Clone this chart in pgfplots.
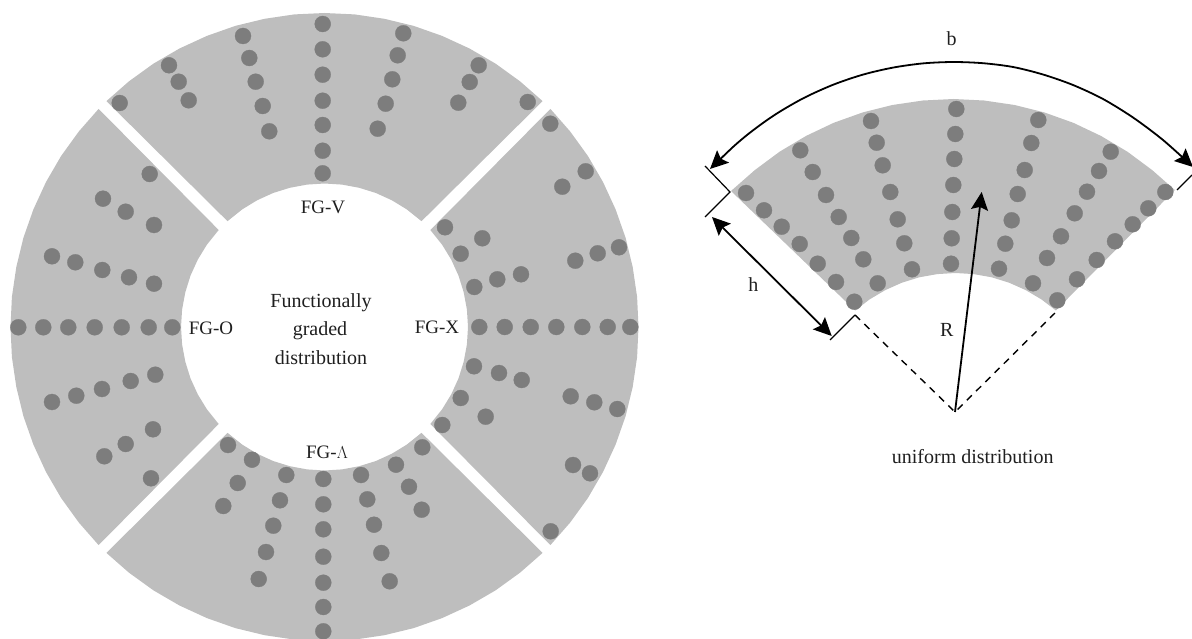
\documentclass[border=0pt]{standalone}
\usepackage{fontspec}
\setmainfont{Liberation Serif}
\usepackage{pgfplots}
\pgfplotsset{compat=1.18}
\usetikzlibrary{arrows.meta}
\definecolor{sector}{gray}{0.745}
\definecolor{dot}{gray}{0.49}
\definecolor{ink}{gray}{0.12}
\tikzset{lab/.style={font=\fontsize{19}{22}\selectfont, text=ink, inner sep=0pt},
         labs/.style={font=\fontsize{20}{23}\selectfont, text=ink, inner sep=0pt}}
\begin{document}
\begin{tikzpicture}
\useasboundingbox (0,0) rectangle (1192pt,639pt);
\begin{axis}[
    width=1192pt, height=639pt, scale only axis,
    xmin=0, xmax=1192, ymin=0, ymax=639,
    y dir=reverse,
    hide axis,
    dots/.style={only marks, color=dot, mark=*, mark size=8pt, mark options={draw=dot, fill=dot, line width=0.3pt}},
    wedge/.style={fill=sector, draw=none},
    dim/.style={black, line width=1.8pt, >={Stealth[length=18pt,width=17pt,inset=3pt]}},
]
% FG-V
\addplot[wedge] coordinates {
    (106.4,101.1)(129,81.3)(153.5,63.6)(179.5,48.5)(206.9,35.9)(235.3,25.9)(264.6,18.8)(294.4,14.4)(324.5,13)
    (354.6,14.4)(384.4,18.8)(413.7,25.9)(442.1,35.9)(469.5,48.5)(495.5,63.6)(520,81.3)(542.6,101.1)
    (421.5,221.2)(406.8,209.4)(391.9,200.3)(375.9,193)(359.2,187.8)(342,184.6)(324.5,183.5)
    (307,184.6)(289.8,187.8)(273.1,193)(257.1,200.3)(242.2,209.4)(227.5,221.2)};
% FG-Lambda
\addplot[wedge] coordinates {
    (106.4,552.9)(129,572.7)(153.5,590.4)(179.5,605.5)(206.9,618.1)(235.3,628.1)(264.6,635.2)(294.4,639.6)(324.5,641)
    (354.6,639.6)(384.4,635.2)(413.7,628.1)(442.1,618.1)(469.5,605.5)(495.5,590.4)(520,572.7)(542.6,552.9)
    (421.5,432.8)(406.8,444.6)(391.9,453.7)(375.9,461)(359.2,466.2)(342,469.4)(324.5,470.5)
    (307,469.4)(289.8,466.2)(273.1,461)(257.1,453.7)(242.2,444.6)(227.5,432.8)};
% FG-O
\addplot[wedge] coordinates {
    (98.6,108.9)(78.8,131.5)(61.1,156)(46,182)(33.4,209.4)(23.4,237.8)(16.3,267.1)(11.9,296.9)(10.5,327)
    (11.9,357.1)(16.3,386.9)(23.4,416.2)(33.4,444.6)(46,472)(61.1,498)(78.8,522.5)(98.6,545.1)
    (218.7,424)(206.9,409.3)(197.8,394.4)(190.5,378.4)(185.3,361.7)(182.1,344.5)(181,327)
    (182.1,309.5)(185.3,292.3)(190.5,275.6)(197.8,259.6)(206.9,244.7)(218.7,230)};
% FG-X
\addplot[wedge] coordinates {
    (550.4,108.9)(570.2,131.5)(587.9,156)(603,182)(615.6,209.4)(625.6,237.8)(632.7,267.1)(637.1,296.9)(638.5,327)
    (637.1,357.1)(632.7,386.9)(625.6,416.2)(615.6,444.6)(603,472)(587.9,498)(570.2,522.5)(550.4,545.1)
    (430.3,424)(442.1,409.3)(451.2,394.4)(458.5,378.4)(463.7,361.7)(466.9,344.5)(468,327)
    (466.9,309.5)(463.7,292.3)(458.5,275.6)(451.2,259.6)(442.1,244.7)(430.3,230)};
% uniform wedge
\addplot[wedge] coordinates {
    (731,191)(754.8,170.1)(779.6,151.7)(806.1,135.9)(833.7,122.8)(862.5,112.5)(892.4,105)(923,100.5)(953.5,99)
    (984,100.5)(1014.6,105)(1044.5,112.5)(1073.3,122.8)(1100.9,135.9)(1127.4,151.7)(1152.2,170.1)(1174.8,190)
    (1055.9,310.5)(1041.4,299.4)(1025.7,290.1)(1009.1,282.7)(991.7,277.3)(973.7,274.1)(955.5,273)
    (937.3,274.1)(919.3,277.3)(901.9,282.7)(885.3,290.1)(869.6,299.4)(855.1,310.5)};

% ring dots
\addplot[dots] coordinates {
    (322.7,24)(322.7,49.3)(322.7,74.7)(322.7,100.7)(322.7,125)(322.7,150.7)(322.7,173.3)
    (243,36)(249.3,58)(255.7,81.7)(262.7,106)(269.3,131.3)
    (169,65.3)(178.7,81.7)(188.7,100.3)(119.7,103)
    (403.3,33.3)(397.7,55.3)(392.3,79.3)(385.7,103.7)(377.7,128.7)
    (478.7,65.3)(469.7,82)(458.3,102.7)(527.7,102)};
\addplot[dots] coordinates {
    (149.7,174)(103,198.7)(125.7,211.7)(154,225)
    (52,256.3)(75.3,262.3)(102.3,270)(129,277.3)(154,283.7)
    (18.3,327.3)(43.3,327.3)(68.3,327.3)(94.7,327.3)(121.7,327.3)(148.7,327.3)(172.3,327.3)
    (155.3,374.7)(130.7,381)(102,389)(76.3,395.7)(52,402)
    (153,429.3)(125.7,444)(104.3,456.3)(151,478.3)};
\addplot[dots] coordinates {
    (228,445)(252,459.7)(237.7,483)(223.3,506)
    (286.3,475)(280,500.3)(273.3,525.7)(266,552)(258.7,579)
    (323.3,479)(323.3,504.3)(323.3,529.3)(323.3,556.7)(323.3,582.7)(323.3,607)(323.3,631.3)
    (361,475)(367.3,499.3)(374,524.7)(381.3,553)(389.7,581.3)
    (396,464.7)(409,486.7)(421.7,509.7)(422.3,447.3)};
\addplot[dots] coordinates {
    (550.3,123.7)(585.7,171.3)(562.3,186.7)
    (619,247.3)(597.7,253.3)(575.3,260.7)
    (521,274.3)(497.3,279.3)(474.3,287)
    (482.3,238.3)(460.7,253.7)(445,227.3)
    (479.3,327)(504.7,327)(530.7,327)(556.3,327)(582.3,327)(607.7,327)(630.3,327)
    (474,366.3)(499,373)(521.7,380)
    (570.7,396.3)(594.3,402.3)(617.3,409)
    (460.7,398)(485.7,416.7)(442.3,425)
    (573,465)(590,473.3)(550.7,531.3)};
% uniform dots
\addplot[dots] coordinates {
    (956.3,109)(955.3,134)(954.3,159)(953.3,185)(952.3,212)(951.7,238.3)(951,263.7)
    (871,121)(876.7,142.7)(882.7,165.3)(890.3,192)(897.7,219.3)(904.3,243.3)(912,269.3)
    (800.3,150.3)(812.7,172)(826,195)(838.7,217)(851.3,238)(863.3,259.3)(877.7,283.3)
    (746,193)(764,210.3)(781.7,226.7)(799.7,244)(817.7,263.7)(836,282)(854.3,301.7)
    (1038.3,120)(1031.3,143)(1024.7,170)(1017.7,194)(1011.7,220.3)(1005.3,243.7)(999,268.7)
    (1110.7,151.7)(1099,171)(1087,191.7)(1074.7,213.3)(1061,236.3)(1047,258)(1033,283.3)
    (1165.3,192)(1148.3,208.3)(1132.7,224.3)(1115,241.3)(1096.7,260)(1077,279.3)(1057.3,300.3)};

% dimension lines
\addplot[dim, smooth, <->] coordinates {
    (710,169)(743,138.3)(773,116)(803,98.4)(833,84.8)(863,74.6)(893,67.6)(923,63.4)(953,62)
    (983,63.2)(1013,67)(1043,74.5)(1073,85)(1103,99)(1133,117.5)(1163,140)(1193,167)};
\addplot[dim, <->] coordinates {(712,217)(831.7,336)};
\addplot[dim, ->] coordinates {(955,412)(981.7,192)};
\addplot[black, line width=1.2pt] coordinates {(705,166)(730,192)(705,217)};
\addplot[black, line width=1.2pt] coordinates {(830,340)(855,315)};
\addplot[black, line width=1.2pt] coordinates {(1177,190)(1192,175)};
\addplot[black, line width=1.4pt, dash pattern=on 7pt off 6pt] coordinates {(855,315)(955,412)(1056,312)};

% labels
\node[lab] at (axis cs:323,207) {FG-V};
\node[lab] at (axis cs:211,328) {FG-O};
\node[lab] at (axis cs:437,327) {FG-X};
\node[lab] at (axis cs:327,452) {FG-$\Lambda$};
\node[labs] at (axis cs:321,303) {Functionally};
\node[labs] at (axis cs:320,331) {graded};
\node[labs] at (axis cs:321,358) {distribution};
\node[labs] at (axis cs:951.7,39) {b};
\node[labs] at (axis cs:753.3,285) {h};
\node[labs] at (axis cs:946.7,330) {R};
\node[labs] at (axis cs:972.7,456.7) {uniform distribution};
\end{axis}
\end{tikzpicture}
\end{document}
